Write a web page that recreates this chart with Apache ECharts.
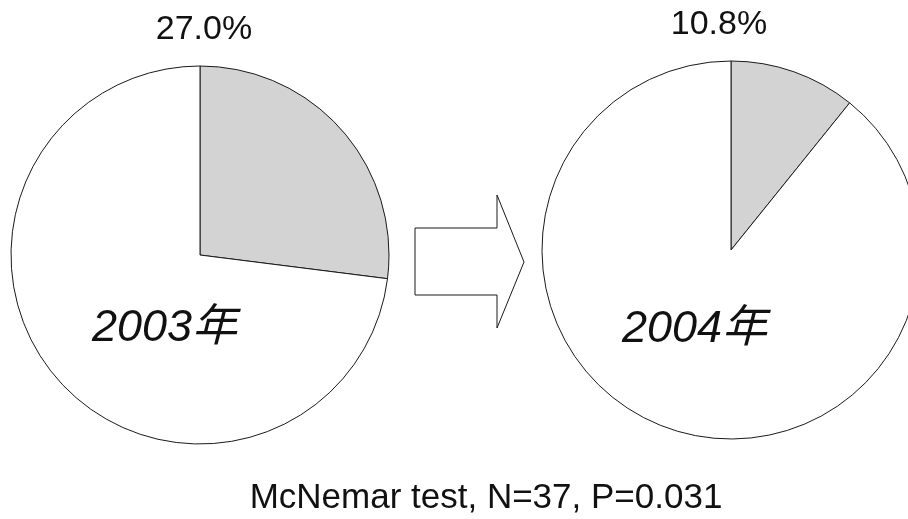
<!DOCTYPE html>
<html>
<head>
<meta charset="utf-8">
<script src="https://cdn.jsdelivr.net/npm/echarts@6/dist/echarts.min.js"></script>
<style>
html,body{margin:0;padding:0;background:#fff;}
#main{width:908px;height:519px;}
</style>
</head>
<body>
<div id="main"></div>
<script>
// Data
const years = ['2003年', '2004年'];
const shadedPct = [27.0, 10.8];
const otherPct = [73.0, 89.2];
const pctLabels = ['27.0%', '10.8%'];
const footnote = 'McNemar test, N=37, P=0.031';

const chart = echarts.init(document.getElementById('main'), null, {renderer: 'canvas'});
const FONT = '"Liberation Sans", Arial, "Noto Sans CJK JP", sans-serif';

const centers = [[200, 255], [731, 250]];
const series = years.map((y, i) => ({
  type: 'pie',
  name: y,
  center: centers[i],
  radius: 189,
  startAngle: 90,
  clockwise: true,
  silent: true,
  animation: false,
  z: 2,
  label: {show: false},
  labelLine: {show: false},
  emphasis: {disabled: true},
  itemStyle: {borderColor: '#1a1a1a', borderWidth: 1},
  data: [
    {name: 'shaded', value: shadedPct[i], itemStyle: {color: '#d3d3d3'}},
    {name: 'other', value: otherPct[i], itemStyle: {color: '#ffffff'}}
  ]
}));

const pctPos = [[204, 30], [719, 25]];
const yearPos = [[92, 328], [622, 329]];

const graphics = [];
pctLabels.forEach((t, i) => {
  graphics.push({
    type: 'text', x: pctPos[i][0], y: pctPos[i][1], silent: true, z: 100,
    style: {text: t, font: '34px ' + FONT, fill: '#111', textAlign: 'center', textVerticalAlign: 'middle'}
  });
});
years.forEach((t, i) => {
  graphics.push({
    type: 'text', x: yearPos[i][0], y: yearPos[i][1], silent: true, z: 100,
    style: {text: t, font: 'italic 45px ' + FONT, fill: '#111', textAlign: 'left', textVerticalAlign: 'middle'}
  });
});
graphics.push({
  type: 'polygon', silent: true, z: 100,
  shape: {points: [[415, 228], [497, 228], [497, 195], [524, 262], [497, 328], [497, 295], [415, 295]]},
  style: {fill: '#fff', stroke: '#1a1a1a', lineWidth: 1}
});
graphics.push({
  type: 'text', x: 486, y: 498, silent: true, z: 100,
  style: {text: footnote, font: '35px ' + FONT, fill: '#111', textAlign: 'center', textVerticalAlign: 'middle'}
});

chart.setOption({
  backgroundColor: '#fff',
  animation: false,
  series: series,
  graphic: {elements: graphics}
});
</script>
</body>
</html>
